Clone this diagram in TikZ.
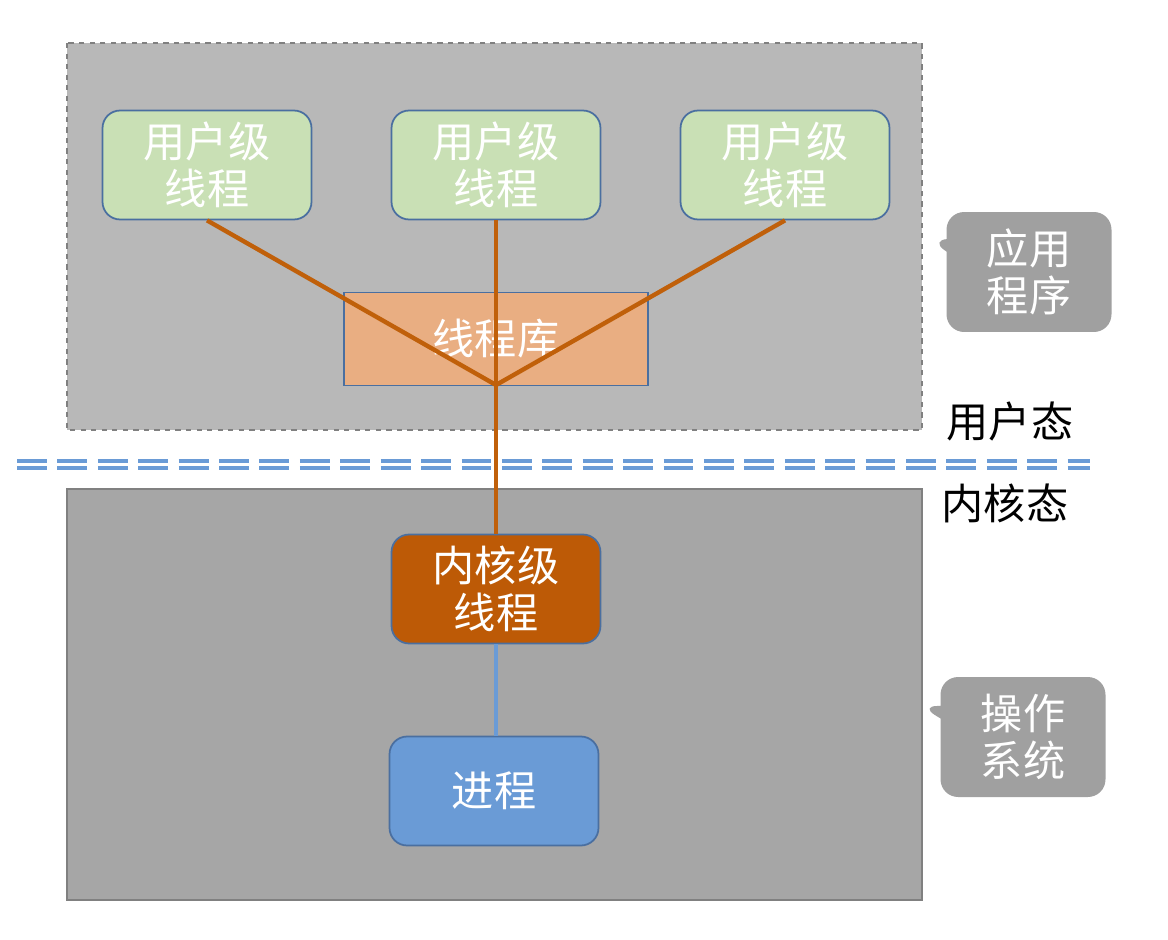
\documentclass[tikz,border=0pt]{standalone}
\usepackage{fontspec}
\setmainfont{Noto Sans CJK SC}
\usetikzlibrary{shapes.callouts}
\definecolor{userbg}{RGB}{184,184,184}
\definecolor{kernbg}{RGB}{166,166,166}
\definecolor{ult}{RGB}{201,224,181}
\definecolor{lib}{RGB}{233,174,130}
\definecolor{klt}{RGB}{189,90,6}
\definecolor{link}{RGB}{192,96,10}
\definecolor{proc}{RGB}{106,155,214}
\definecolor{edge}{RGB}{74,111,160}
\definecolor{tag}{RGB}{160,160,160}
\tikzset{thread/.style={draw=edge,line width=1pt,rounded corners=10pt,minimum width=4.18cm,minimum height=2.18cm,text=white,align=center,font=\fontsize{24}{27}\selectfont}}
\tikzset{tagbox/.style={rectangle callout,fill=tag,rounded corners=10pt,minimum width=3.3cm,minimum height=2.4cm,text=white,align=center,font=\fontsize{24}{27}\selectfont}}
\tikzset{state/.style={font=\fontsize{24}{27}\selectfont}}
\begin{document}
\begin{tikzpicture}[x=0.02cm,y=-0.02cm]
  \useasboundingbox (0,0) rectangle (1168,939);
  %% Background areas
  \draw[fill=userbg,draw=gray,dashed,line width=0.8pt] (67,43) rectangle (922,430);
  \draw[fill=kernbg,draw=gray,line width=1pt] (67,489) rectangle (922,900);
  \draw[proc,line width=1.8pt,dash pattern=on 17pt off 6pt] (17,461) -- (1090,461);
  \draw[proc,line width=1.8pt,dash pattern=on 17pt off 6pt] (17,468) -- (1090,468);

  \draw (207,165) node[thread,fill=ult] (U1) {用户级\\线程};
  \draw (496,165) node[thread,fill=ult] (U2) {用户级\\线程};
  \draw (785,165) node[thread,fill=ult] (U3) {用户级\\线程};
  \draw (496,339) node[thread,fill=lib,rounded corners=0pt,minimum width=6.08cm,minimum height=1.86cm] (L) {线程库};
  \coordinate (J) at (496,385);
  \draw (496,589) node[thread,fill=klt] (K) {内核级\\线程};
  \draw (494,791) node[thread,fill=proc] (P) {进程};

  \draw[link,line width=2.5pt] (U1.south) -- (J);
  \draw[link,line width=2.5pt] (U2.south) -- (J);
  \draw[link,line width=2.5pt] (U3.south) -- (J);
  \draw[link,line width=2.5pt] (J) -- (K.north);
  \draw[proc,line width=2.5pt] (K.south) -- (K.south |- P.north);

  %% Labels on the right
  \draw (1029,272) node[tagbox,callout absolute pointer={(930,240)}] (A) {应用\\程序};
  \draw (1023,737) node[tagbox,callout absolute pointer={(920,706)}] (O) {操作\\系统};
  \draw (1010,421) node[state] (S1) {用户态};
  \draw (1005,503) node[state] (S2) {内核态};
\end{tikzpicture}
\end{document}
